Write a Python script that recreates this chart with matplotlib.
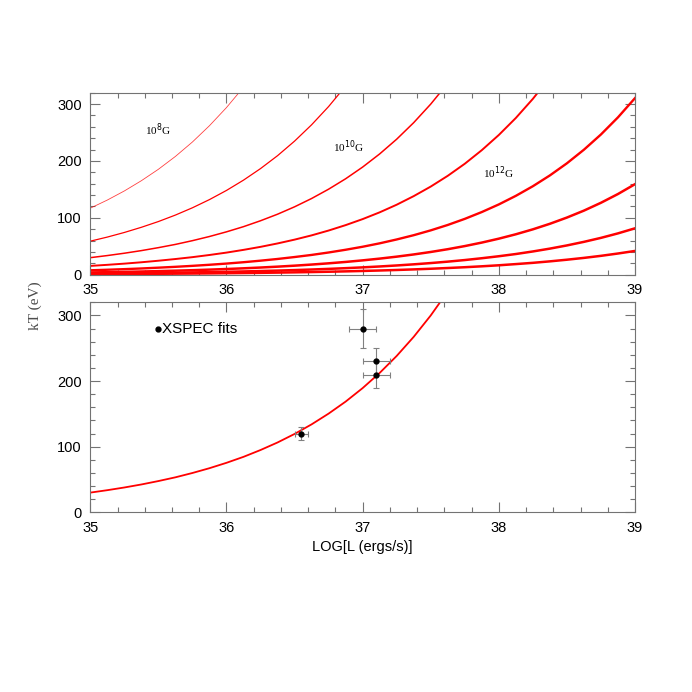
import matplotlib
matplotlib.use("Agg")
import matplotlib.pyplot as plt
from matplotlib.ticker import MultipleLocator

# ---------------- data ----------------
log_L = [35.0, 35.125, 35.25, 35.375, 35.5, 35.625, 35.75, 35.875,
         36.0, 36.125, 36.25, 36.375, 36.5, 36.625, 36.75, 36.875,
         37.0, 37.125, 37.25, 37.375, 37.5, 37.625, 37.75, 37.875,
         38.0, 38.125, 38.25, 38.375, 38.5, 38.625, 38.75, 38.875, 39.0]

kT_1e8 = [117, 131.3, 147.3, 165.3, 185.4, 208.0, 233.4, 262.0, 293.9, 329.7]
kT_1e9 = [59, 66.2, 74.3, 83.4, 93.5, 104.9, 117.7, 132.1, 148.2, 166.3,
          186.6, 209.3, 234.9, 263.6, 295.7, 331.8]
kT_1e10 = [30, 33.7, 37.8, 42.4, 47.6, 53.3, 59.9, 67.2, 75.4, 84.5, 94.9,
           106.4, 119.4, 134.0, 150.4, 168.7, 189.3, 212.4, 238.3, 267.4,
           300, 336.6]
kT_1e11 = [15.5, 17.4, 19.5, 21.9, 24.6, 27.6, 30.9, 34.7, 38.9, 43.7, 49.0,
           55.0, 61.7, 69.2, 77.7, 87.2, 97.8, 109.7, 123.1, 138.2, 155,
           173.9, 195.1, 219.0, 245.7, 275.6, 309.2, 347.0]
kT_1e12 = [7.8, 8.75, 9.82, 11.0, 12.4, 13.9, 15.6, 17.5, 19.6, 22.0, 24.7,
           27.7, 31.1, 34.8, 39.1, 43.9, 49.2, 55.2, 62.0, 69.5, 78.0, 87.5,
           98.2, 110.2, 123.6, 138.7, 155.6, 174.6, 195.9, 219.8, 246.6,
           276.7, 310.5]
kT_1e13 = [4.0, 4.49, 5.04, 5.65, 6.34, 7.11, 7.98, 8.96, 10.05, 11.27, 12.65,
           14.19, 15.92, 17.87, 20.05, 22.49, 25.24, 28.32, 31.77, 35.65, 40.0,
           44.88, 50.36, 56.52, 63.4, 71.12, 79.8, 89.56, 100.5, 112.7, 126.5,
           141.9, 159.2]
kT_1e14 = [2.05, 2.30, 2.58, 2.90, 3.25, 3.64, 4.09, 4.59, 5.15, 5.78, 6.48,
           7.27, 8.16, 9.16, 10.27, 11.53, 12.94, 14.51, 16.28, 18.27, 20.5,
           23.0, 25.8, 29.0, 32.5, 36.4, 40.9, 45.9, 51.5, 57.8, 64.8, 72.7,
           81.6]
kT_1e15 = [1.05, 1.18, 1.32, 1.48, 1.66, 1.87, 2.09, 2.35, 2.64, 2.96, 3.32,
           3.73, 4.18, 4.69, 5.26, 5.90, 6.63, 7.43, 8.34, 9.36, 10.5, 11.8,
           13.2, 14.8, 16.6, 18.7, 20.9, 23.5, 26.4, 29.6, 33.2, 37.3, 41.8]

field_curves = [kT_1e8, kT_1e9, kT_1e10, kT_1e11, kT_1e12, kT_1e13, kT_1e14, kT_1e15]
field_lw = [0.6, 0.9, 1.1, 1.4, 1.7, 1.8, 1.8, 1.8]
field_alpha = [0.75, 1, 1, 1, 1, 1, 1, 1]

field_labels = ["10$^{8}$G", "10$^{10}$G", "10$^{12}$G"]
field_label_x = [35.5, 36.9, 38.0]
field_label_y = [255, 225, 180]

fit_L = [36.55, 37.0, 37.1, 37.1]
fit_kT = [120, 280, 230, 210]
fit_Lerr = [0.05, 0.1, 0.1, 0.1]
fit_kTerr = [10, 30, 20, 20]

x_ticks = [35, 36, 37, 38, 39]
y_ticks = [0, 100, 200, 300]

# ---------------- figure ----------------
plt.rcParams['font.family'] = ['Liberation Sans', 'DejaVu Sans']
fig = plt.figure(figsize=(6.92, 6.92), dpi=100)

ax1 = fig.add_axes([0.1305, 0.603, 0.7871, 0.263])
ax2 = fig.add_axes([0.1305, 0.2597, 0.7871, 0.3034])

spine_col = '0.45'
for ax in (ax1, ax2):
    ax.set_xlim(35, 39)
    ax.set_ylim(0, 320)
    ax.set_xticks(x_ticks)
    ax.set_yticks(y_ticks)
    ax.xaxis.set_minor_locator(MultipleLocator(0.2))
    ax.yaxis.set_minor_locator(MultipleLocator(20))
    ax.tick_params(which='both', direction='in', top=True, right=True,
                   color=spine_col, labelsize=10.5, width=0.8)
    ax.tick_params(which='major', length=7, pad=6)
    ax.tick_params(which='minor', length=3.5)
    for s in ax.spines.values():
        s.set_color(spine_col)
        s.set_linewidth(0.8)

for ys, lw, al in zip(field_curves, field_lw, field_alpha):
    ax1.plot(log_L[:len(ys)], ys, color='red', lw=lw, alpha=al)

for lab, lx, ly in zip(field_labels, field_label_x, field_label_y):
    ax1.text(lx, ly, lab, fontsize=8, family='Liberation Serif',
             ha='center', va='center')

ax2.plot(log_L[:len(kT_1e10)], kT_1e10, color='red', lw=1.3)
ax2.errorbar(fit_L, fit_kT, xerr=fit_Lerr, yerr=fit_kTerr, fmt='o',
             color='black', ms=3.5, ecolor='0.5', elinewidth=0.8,
             capsize=2, capthick=0.8, zorder=3)
ax2.plot([35.5], [280], 'o', color='black', ms=3.5)
ax2.text(35.53, 280, "XSPEC fits", fontsize=11, va='center', ha='left')

ax2.set_xlabel("LOG[L (ergs/s)]", fontsize=10.5, labelpad=4)
fig.text(0.0506, 0.558, "kT (eV)", rotation=90, family='Liberation Serif',
         fontsize=11, ha='center', va='center', color='0.3')

fig.savefig("out.png", dpi=100)
